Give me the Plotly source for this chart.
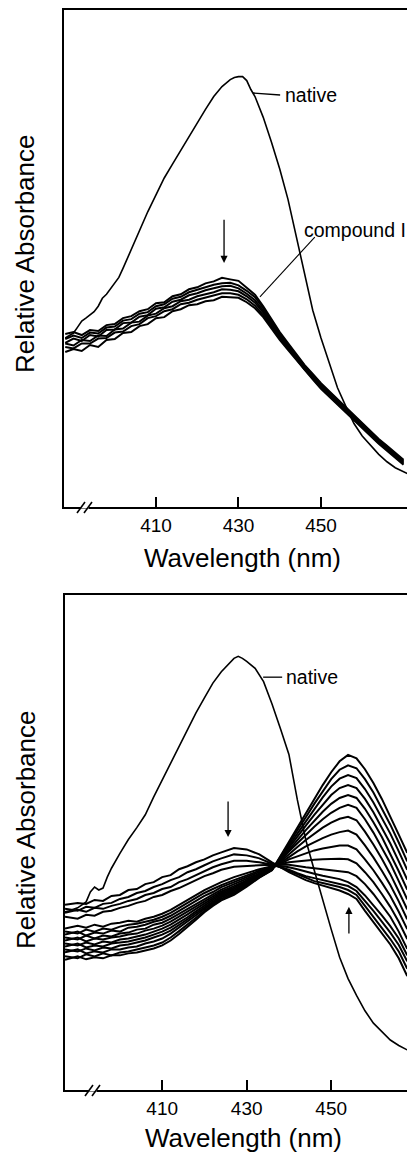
import plotly.graph_objects as go

W, H = 407, 1153
FONT = "Liberation Sans, Arial, Helvetica, sans-serif"

# ---------------- Top panel data (native -> compound I) ----------------
wl_top = list(range(388, 471, 2))

compound_scan_1 = [0.348,0.352,0.346,0.356,0.354,0.366,0.368,0.380,0.384,0.394,
                   0.398,0.410,0.412,0.424,0.428,0.438,0.442,0.450,0.454,0.461,
                   0.458,0.455,0.441,0.427,0.404,0.378,0.352,0.330,0.308,0.286,
                   0.268,0.249,0.233,0.217,0.199,0.183,0.167,0.151,0.137,0.123,
                   0.109,0.095]
compound_scan_2 = [0.338,0.345,0.340,0.351,0.349,0.361,0.363,0.375,0.378,0.389,
                   0.392,0.404,0.408,0.419,0.423,0.432,0.437,0.442,0.447,0.450,
                   0.451,0.446,0.435,0.422,0.400,0.374,0.349,0.327,0.306,0.284,
                   0.266,0.247,0.231,0.215,0.197,0.181,0.165,0.149,0.135,0.121,
                   0.107,0.093]
compound_scan_3 = [0.330,0.339,0.334,0.346,0.343,0.356,0.357,0.370,0.371,0.383,
                   0.386,0.399,0.402,0.413,0.417,0.426,0.430,0.436,0.440,0.444,
                   0.445,0.440,0.429,0.416,0.395,0.370,0.346,0.324,0.303,0.282,
                   0.264,0.245,0.229,0.213,0.195,0.179,0.163,0.147,0.133,0.119,
                   0.105,0.091]
compound_scan_4 = [0.329,0.325,0.336,0.334,0.345,0.344,0.357,0.359,0.371,0.373,
                   0.385,0.389,0.400,0.404,0.414,0.417,0.424,0.428,0.432,0.438,
                   0.437,0.434,0.424,0.411,0.391,0.366,0.342,0.322,0.301,0.279,
                   0.261,0.242,0.226,0.210,0.193,0.177,0.161,0.145,0.131,0.117,
                   0.103,0.089]
compound_scan_5 = [0.322,0.319,0.329,0.329,0.339,0.340,0.351,0.353,0.364,0.368,
                   0.380,0.384,0.394,0.398,0.408,0.411,0.417,0.421,0.425,0.430,
                   0.430,0.427,0.418,0.405,0.386,0.362,0.339,0.319,0.298,0.277,
                   0.259,0.240,0.224,0.208,0.191,0.175,0.159,0.143,0.129,0.115,
                   0.101,0.087]
compound_scan_6 = [0.312,0.318,0.314,0.326,0.322,0.336,0.338,0.350,0.352,0.364,
                   0.368,0.380,0.382,0.394,0.398,0.406,0.408,0.414,0.416,0.423,
                   0.422,0.421,0.412,0.400,0.382,0.358,0.336,0.316,0.296,0.275,
                   0.257,0.238,0.222,0.206,0.189,0.173,0.157,0.141,0.127,0.113,
                   0.099,0.085]
top_scans = [compound_scan_1, compound_scan_2, compound_scan_3,
             compound_scan_4, compound_scan_5, compound_scan_6]

native_top_wl = [388,389,390,391,392,393,394,395,396,397,398,399,400,401,402,
                 404,406,408,410,412,414,416,418,420,422,424,426,428,
                 429,430,431,432,433,434,
                 436,438,440,442,444,446,448,450,452,454,456,458,460,462,464,466,468,
                 471]
native_top = [0.340,0.345,0.350,0.362,0.374,0.380,0.386,0.393,0.404,0.420,0.428,0.440,0.450,0.462,0.480,
              0.518,0.556,0.594,0.628,0.662,0.690,0.718,0.746,0.772,0.800,0.826,0.846,0.860,
              0.864,0.866,0.866,0.858,0.840,0.826,
              0.784,0.734,0.680,0.619,0.543,0.470,0.396,0.340,0.290,0.240,0.203,0.168,0.143,0.124,0.106,0.091,0.079,
              0.067]

# ---------------- Bottom panel data (time course) ----------------
wl_bottom = [387] + list(range(390, 425, 2)) + [427, 430, 433, 436] + list(range(438, 469, 2))

scan_00 = [0.374,0.378,0.376,0.384,0.382,0.392,0.394,0.404,0.406,0.416,0.420,0.430,0.434,0.446,0.452,0.460,0.466,0.474,0.480,
           0.489,0.486,0.476,0.460,
           0.450,0.440,0.432,0.424,0.418,0.413,0.408,0.403,0.396,0.386,0.362,0.340,0.318,0.294,0.266,0.230]
scan_01 = [0.366,0.362,0.370,0.368,0.376,0.378,0.386,0.390,0.398,0.402,0.410,0.416,0.424,0.430,0.440,0.446,0.454,0.462,0.468,
           0.476,0.474,0.468,0.457,
           0.450,0.442,0.435,0.428,0.422,0.418,0.414,0.410,0.404,0.394,0.372,0.350,0.328,0.305,0.280,0.245]
scan_02 = [0.358,0.364,0.360,0.368,0.366,0.372,0.376,0.382,0.386,0.394,0.398,0.406,0.410,0.420,0.426,0.434,0.442,0.450,0.456,
           0.463,0.463,0.460,0.455,
           0.450,0.445,0.438,0.432,0.428,0.424,0.420,0.417,0.412,0.402,0.383,0.362,0.340,0.318,0.293,0.260]
scan_03 = [0.350,0.346,0.354,0.352,0.360,0.362,0.368,0.372,0.378,0.382,0.390,0.394,0.402,0.408,0.416,0.424,0.432,0.438,0.445,
           0.451,0.453,0.454,0.455,
           0.453,0.450,0.446,0.441,0.437,0.433,0.430,0.426,0.420,0.410,0.393,0.374,0.353,0.331,0.306,0.272]
scan_04 = [0.326,0.332,0.328,0.334,0.330,0.336,0.338,0.342,0.340,0.346,0.350,0.356,0.364,0.374,0.384,0.394,0.404,0.412,0.420,
           0.430,0.438,0.446,0.452,
           0.455,0.455,0.452,0.450,0.448,0.446,0.444,0.442,0.440,0.432,0.416,0.396,0.374,0.350,0.320,0.285]
scan_05 = [0.320,0.316,0.324,0.320,0.326,0.324,0.330,0.334,0.336,0.340,0.344,0.350,0.358,0.368,0.378,0.388,0.398,0.406,0.414,
           0.424,0.434,0.443,0.450,
           0.456,0.460,0.462,0.464,0.465,0.466,0.467,0.467,0.466,0.458,0.440,0.420,0.396,0.370,0.340,0.305]
scan_06 = [0.314,0.320,0.312,0.318,0.316,0.322,0.320,0.328,0.330,0.334,0.340,0.344,0.352,0.362,0.372,0.382,0.392,0.400,0.410,
           0.420,0.430,0.440,0.449,
           0.457,0.466,0.472,0.478,0.484,0.488,0.491,0.494,0.494,0.486,0.466,0.444,0.419,0.392,0.360,0.325]
scan_07 = [0.308,0.304,0.312,0.306,0.312,0.310,0.316,0.318,0.324,0.326,0.334,0.338,0.346,0.356,0.366,0.376,0.386,0.396,0.405,
           0.416,0.427,0.438,0.448,
           0.459,0.471,0.482,0.492,0.501,0.509,0.516,0.521,0.524,0.516,0.494,0.470,0.443,0.414,0.381,0.345]
scan_08 = [0.302,0.308,0.300,0.306,0.304,0.308,0.310,0.314,0.316,0.322,0.326,0.332,0.340,0.350,0.360,0.370,0.381,0.391,0.401,
           0.412,0.424,0.436,0.447,
           0.461,0.477,0.491,0.505,0.518,0.530,0.540,0.548,0.552,0.545,0.522,0.496,0.467,0.436,0.401,0.365]
scan_09 = [0.296,0.292,0.298,0.294,0.300,0.298,0.304,0.306,0.310,0.314,0.320,0.326,0.334,0.344,0.355,0.366,0.377,0.387,0.398,
           0.409,0.421,0.434,0.447,
           0.463,0.482,0.499,0.516,0.532,0.547,0.560,0.570,0.576,0.570,0.547,0.520,0.490,0.458,0.422,0.385]
scan_10 = [0.290,0.296,0.288,0.292,0.290,0.296,0.298,0.300,0.304,0.308,0.314,0.320,0.328,0.338,0.349,0.361,0.373,0.384,0.395,
           0.406,0.419,0.433,0.446,
           0.465,0.486,0.505,0.525,0.544,0.562,0.578,0.590,0.596,0.590,0.568,0.541,0.511,0.478,0.442,0.405]
scan_11 = [0.284,0.280,0.286,0.282,0.288,0.286,0.292,0.294,0.298,0.302,0.308,0.314,0.322,0.333,0.345,0.357,0.369,0.381,0.392,
           0.403,0.417,0.432,0.446,
           0.467,0.490,0.512,0.534,0.556,0.577,0.596,0.610,0.616,0.610,0.588,0.561,0.531,0.498,0.462,0.425]
scan_12 = [0.278,0.284,0.276,0.280,0.278,0.284,0.284,0.288,0.290,0.296,0.300,0.306,0.316,0.328,0.340,0.353,0.366,0.378,0.389,
           0.400,0.415,0.431,0.445,
           0.469,0.494,0.518,0.543,0.567,0.591,0.613,0.629,0.636,0.630,0.608,0.581,0.551,0.518,0.482,0.445]
scan_13 = [0.270,0.266,0.274,0.270,0.276,0.272,0.278,0.280,0.284,0.288,0.292,0.298,0.308,0.321,0.334,0.348,0.362,0.375,0.386,
           0.397,0.413,0.430,0.445,
           0.471,0.498,0.524,0.551,0.578,0.604,0.628,0.647,0.656,0.650,0.628,0.601,0.570,0.536,0.500,0.462]
scan_14 = [0.263,0.270,0.264,0.268,0.266,0.272,0.272,0.276,0.278,0.282,0.286,0.292,0.302,0.315,0.329,0.344,0.359,0.372,0.383,
           0.394,0.411,0.429,0.444,
           0.473,0.502,0.530,0.559,0.588,0.616,0.642,0.664,0.677,0.670,0.648,0.620,0.588,0.553,0.516,0.479]
bottom_scans = [scan_00, scan_01, scan_02, scan_03, scan_04, scan_05, scan_06, scan_07,
                scan_08, scan_09, scan_10, scan_11, scan_12, scan_13, scan_14]

native_bottom_wl = [387,388,390,392,393,394,395,396,397,398,400,402,404,406,408,410,412,414,416,418,420,
                    422,424,426,427,428,429,430,432,434,436,438,440,442,444,446,448,450,452,454,456,458,
                    460,462,464,466,468]
native_bottom = [0.360,0.362,0.368,0.380,0.400,0.410,0.404,0.408,0.430,0.448,0.478,0.506,0.530,0.556,0.592,0.626,
                 0.660,0.694,0.728,0.762,0.792,0.822,0.845,0.862,0.872,0.876,0.872,0.866,0.852,0.825,0.780,
                 0.730,0.678,0.586,0.505,0.444,0.382,0.325,0.268,0.225,0.191,0.160,0.135,0.117,0.101,0.090,0.081]

tick_vals = [410, 430, 450]
tick_text = ["410", "430", "450"]

# ---------------- Figure ----------------
fig = go.Figure()
for ys in top_scans:
    fig.add_trace(go.Scatter(x=wl_top, y=ys, mode="lines", xaxis="x", yaxis="y",
                             line=dict(color="black", width=2.0), hoverinfo="skip"))
fig.add_trace(go.Scatter(x=native_top_wl, y=native_top, mode="lines", xaxis="x", yaxis="y",
                         line=dict(color="black", width=1.6), hoverinfo="skip"))
for ys in bottom_scans:
    fig.add_trace(go.Scatter(x=wl_bottom, y=ys, mode="lines", xaxis="x2", yaxis="y2",
                             line=dict(color="black", width=2.0), hoverinfo="skip"))
fig.add_trace(go.Scatter(x=native_bottom_wl, y=native_bottom, mode="lines", xaxis="x2", yaxis="y2",
                         line=dict(color="black", width=1.6), hoverinfo="skip"))


def px(x):
    return x / W


def py(y):
    return 1 - y / H


xcommon = dict(showline=True, linecolor="black", linewidth=2, mirror=True,
               ticks="inside", ticklen=10, tickwidth=1.6, tickcolor="black",
               tickvals=tick_vals, ticktext=tick_text,
               tickfont=dict(family=FONT, size=19, color="black"),
               showgrid=False, zeroline=False, fixedrange=True)
ycommon = dict(showline=True, linecolor="black", linewidth=2, mirror=False,
               showticklabels=False, ticks="", showgrid=False, zeroline=False,
               range=[0, 1], fixedrange=True)

fig.update_layout(
    width=W, height=H, margin=dict(l=0, r=0, t=0, b=0),
    paper_bgcolor="white", plot_bgcolor="white", showlegend=False,
    xaxis=dict(domain=[px(64), 1], range=[387.7, 470.85], anchor="y", **xcommon),
    yaxis=dict(domain=[py(507), py(10)], anchor="x", **ycommon),
    xaxis2=dict(domain=[px(65), 1], range=[387.0, 467.95], anchor="y2", **xcommon),
    yaxis2=dict(domain=[py(1090), py(595)], anchor="x2", **ycommon),
)

title_font = dict(family=FONT, size=26, color="black")
label_font = dict(family=FONT, size=19.5, color="black")
ann = [
    dict(x=px(25), y=py(254), xref="paper", yref="paper", text="Relative Absorbance",
         textangle=-90, showarrow=False, font=title_font, xanchor="center", yanchor="middle"),
    dict(x=px(26), y=py(830), xref="paper", yref="paper", text="Relative Absorbance",
         textangle=-90, showarrow=False, font=title_font, xanchor="center", yanchor="middle"),
    dict(x=px(242), y=py(558), xref="paper", yref="paper", text="Wavelength (nm)",
         showarrow=False, font=title_font, xanchor="center", yanchor="middle"),
    dict(x=px(244), y=py(1138), xref="paper", yref="paper", text="Wavelength (nm)",
         showarrow=False, font=title_font, xanchor="center", yanchor="middle"),
    dict(x=440.8, y=0.829, xref="x", yref="y", text="native", xanchor="left", yanchor="middle",
         showarrow=False, font=label_font),
    dict(x=445.4, y=0.557, xref="x", yref="y", text="compound I", xanchor="left", yanchor="middle",
         showarrow=False, font=label_font),
    dict(x=438.8, y=0.834, xref="x2", yref="y2", text="native", xanchor="left", yanchor="middle",
         showarrow=False, font=label_font),
    # arrows
    dict(x=426.5, y=0.491, ax=426.5, ay=0.581, xref="x", yref="y", axref="x", ayref="y",
         text="", showarrow=True, arrowhead=2, arrowsize=1.1, arrowwidth=1.3, arrowcolor="black"),
    dict(x=425.6, y=0.511, ax=425.6, ay=0.586, xref="x2", yref="y2", axref="x2", ayref="y2",
         text="", showarrow=True, arrowhead=2, arrowsize=1.1, arrowwidth=1.3, arrowcolor="black"),
    dict(x=454.2, y=0.370, ax=454.2, ay=0.313, xref="x2", yref="y2", axref="x2", ayref="y2",
         text="", showarrow=True, arrowhead=2, arrowsize=1.1, arrowwidth=1.3, arrowcolor="black"),
]
fig.update_layout(annotations=ann)

shapes = [
    # leader lines
    dict(type="line", xref="x", yref="y", x0=433.5, y0=0.833, x1=440.1, y1=0.829,
         line=dict(color="black", width=1.3)),
    dict(type="line", xref="x", yref="y", x0=448.5, y0=0.543, x1=435.2, y1=0.423,
         line=dict(color="black", width=1.1)),
    dict(type="line", xref="x2", yref="y2", x0=433.9, y0=0.834, x1=438.4, y1=0.834,
         line=dict(color="black", width=1.3)),
    # axis breaks (top)
    dict(type="line", xref="paper", yref="paper", x0=px(81), y0=py(507), x1=px(89), y1=py(507),
         line=dict(color="white", width=3)),
    dict(type="line", xref="paper", yref="paper", x0=px(77), y0=py(513), x1=px(85), y1=py(502),
         line=dict(color="black", width=1.6)),
    dict(type="line", xref="paper", yref="paper", x0=px(84), y0=py(513), x1=px(92), y1=py(502),
         line=dict(color="black", width=1.6)),
    # axis breaks (bottom)
    dict(type="line", xref="paper", yref="paper", x0=px(89), y0=py(1090), x1=px(97), y1=py(1090),
         line=dict(color="white", width=3)),
    dict(type="line", xref="paper", yref="paper", x0=px(85), y0=py(1096), x1=px(93), y1=py(1085),
         line=dict(color="black", width=1.6)),
    dict(type="line", xref="paper", yref="paper", x0=px(92), y0=py(1096), x1=px(100), y1=py(1085),
         line=dict(color="black", width=1.6)),
]
fig.update_layout(shapes=shapes)

fig.write_html("out.html")
